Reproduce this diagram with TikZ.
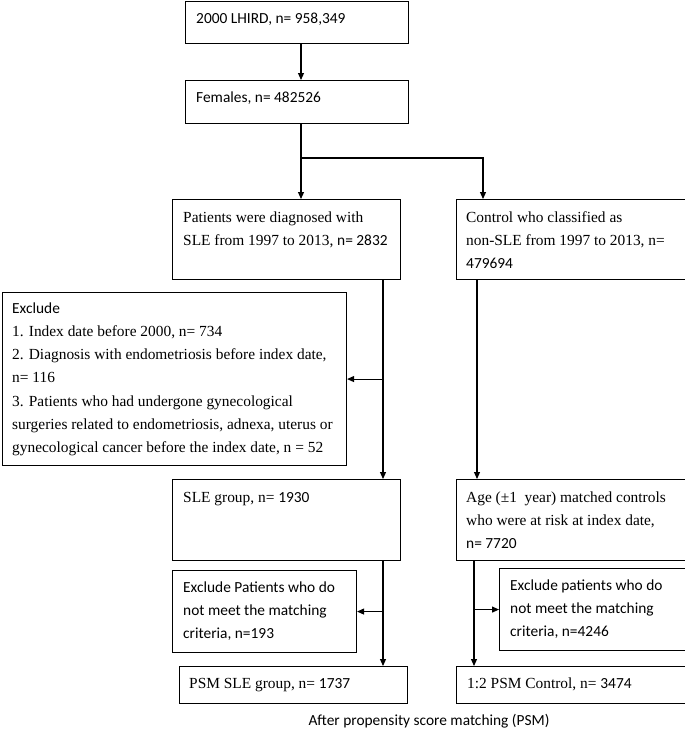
\documentclass[tikz,border=0pt]{standalone}
\usepackage{fontspec}
\setmainfont{Liberation Serif}
\newfontfamily\calfont{Carlito}
\usetikzlibrary{arrows.meta}
\begin{document}
\begin{tikzpicture}[x=1pt,y=-1pt,
  box/.style={draw, line width=1.1pt, inner sep=0pt, anchor=north west},
  txt/.style={anchor=north west, inner sep=0pt, align=left, font=\fontsize{15.4}{23.2}\selectfont},
  stxt/.style={txt, font=\fontsize{15.4}{23.2}\selectfont\calfont},
  arr/.style={line width=1.1pt, -{Triangle[length=7pt,width=6pt]}},
  ln/.style={line width=1.1pt}]
\fill[white] (0,0) rectangle (685,736);
\useasboundingbox (0,0) rectangle (685,736);
\newcommand{\st}{\rule{0pt}{15pt}}
% boxes
\node[box, minimum width=223pt, minimum height=42pt] (b1) at (185,1) {};
\node[box, minimum width=223pt, minimum height=43pt] (b2) at (185,80) {};
\node[box, minimum width=228pt, minimum height=80pt] (b3) at (172,199) {};
\node[box, minimum width=232pt, minimum height=80pt] (b4) at (456,199) {};
\node[box, minimum width=344pt, minimum height=173pt] (exc) at (2,292) {};
\node[box, minimum width=228pt, minimum height=81pt] (b5) at (172,479) {};
\node[box, minimum width=232pt, minimum height=81pt] (b6) at (456,479) {};
\node[box, minimum width=184pt, minimum height=82pt] (exl) at (172,570) {};
\node[box, minimum width=189pt, minimum height=82pt] (exr) at (499,568) {};
\node[box, minimum width=228pt, minimum height=37pt] (b7) at (179,666) {};
\node[box, minimum width=232pt, minimum height=37pt] (b8) at (456,666) {};
% texts
\node[stxt] (t1) at (196,8) {\st 2000 LHIRD, n= 958,349};
\node[stxt] (t2) at (196,87) {\st Females, n= 482526};
\node[txt] (t3) at (183,207) {\st Patients were diagnosed with\\SLE from 1997 to 2013, {\calfont n= 2832}};
\node[txt] (t4) at (466,207) {\st Control who classified as\\non-SLE from 1997 to 2013, n=\\{\calfont 479694}};
\node[txt] (t5) at (12,298) {\st{\calfont Exclude}\\1. Index date before 2000, n= 734\\2. Diagnosis with endometriosis before index date,\\n= 116\\3. Patients who had undergone gynecological\\surgeries related to endometriosis, adnexa, uterus or\\gynecological cancer before the index date, n = 52};
\node[txt] (t6) at (183,487) {\st SLE group, n= {\calfont 1930}};
\node[txt] (t7) at (466,487) {\st Age (±1\ \ year) matched controls\\who were at risk at index date,\\{\calfont n= 7720}};
\node[stxt] (t8) at (183,577) {\st Exclude Patients who do\\not meet the matching\\criteria, n=193};
\node[stxt] (t9) at (510,575) {\st Exclude patients who do\\not meet the matching\\criteria, n=4246};
\node[txt] (t10) at (189,673) {\st PSM SLE group, n= {\calfont 1737}};
\node[txt] (t11) at (467,673) {\st 1:2 PSM Control, n= {\calfont 3474}};
\node[anchor=base, inner sep=0pt, font=\fontsize{15.4}{23.2}\selectfont\calfont] (cap) at (429,725) {After propensity score matching (PSM)};
% connector columns
\coordinate (xa) at (301,0);
\coordinate (xb) at (483,0);
\coordinate (xc) at (383,0);
\coordinate (xd) at (477,0);
\coordinate (xe) at (474,0);
\coordinate (split) at (301,158);
% connectors
\draw[arr] (b1.south -| xa) -- (b2.north -| xa);
\draw[arr] (b2.south -| xa) -- (b3.north -| xa);
\draw[arr] (split) -| (b4.north -| xb);
\draw[arr] (b3.south -| xc) -- (b5.north -| xc);
\draw[arr] (exc.east -| xc) -- (exc.east);
\draw[arr] (b4.south -| xd) -- (b6.north -| xd);
\draw[arr] (b5.south -| xc) -- (b7.north -| xc);
\draw[arr] (exl.east -| xc) -- (exl.east);
\draw[arr] (b6.south -| xe) -- (b8.north -| xe);
\draw[arr] (exr.west -| xe) -- (exr.west);
\end{tikzpicture}
\end{document}
